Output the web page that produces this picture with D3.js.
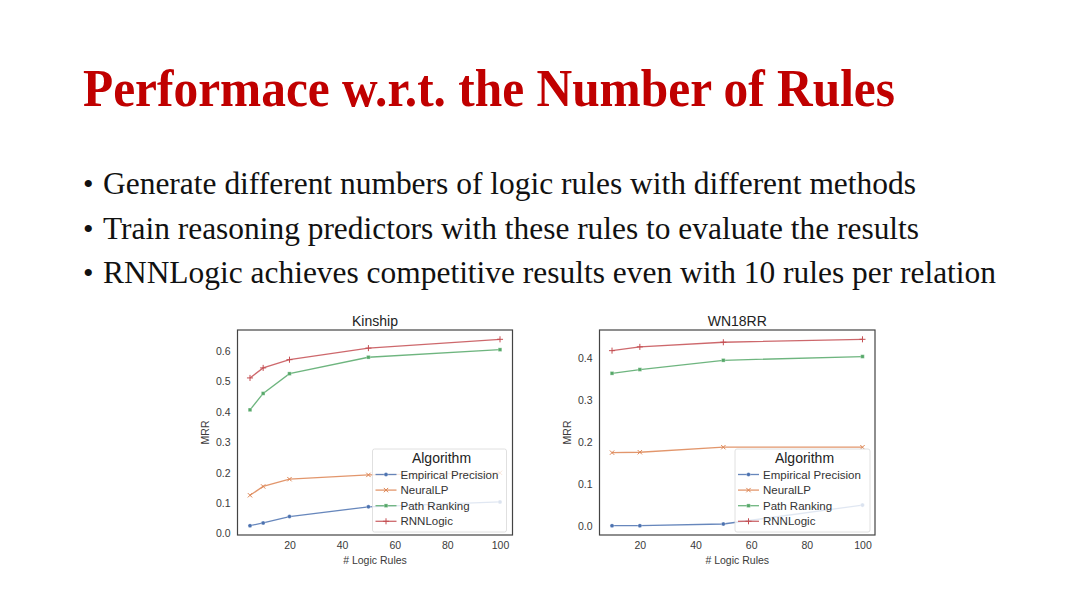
<!DOCTYPE html>
<meta charset="utf-8">
<style>
  body { margin: 0; background: #fff; }
  svg { display: block; }
  .tick text { font-family: "Liberation Sans", Arial, sans-serif; fill: #3a3a3a; }
</style>
<svg width="1080" height="608"></svg>
<script src="https://cdn.jsdelivr.net/npm/d3@7/dist/d3.min.js"></script>
<script>

// slide text
var slideTitle = "Performace w.r.t. the Number of Rules";
var bullets = [
  "Generate different numbers of logic rules with different methods",
  "Train reasoning predictors with these rules to evaluate the results",
  "RNNLogic achieves competitive results even with 10 rules per relation"
];

// series names
var algorithms = ["Empirical Precision", "NeuralLP", "Path Ranking", "RNNLogic"];

// Kinship panel
var kinshipRules = [5, 10, 20, 50, 100];
var kinshipEmpirical = [0.026, 0.035, 0.056, 0.088, 0.104];
var kinshipNeuralLP = [0.126, 0.155, 0.179, 0.193, 0.200];
var kinshipPathRanking = [0.407, 0.461, 0.526, 0.580, 0.605];
var kinshipRNNLogic = [0.512, 0.545, 0.572, 0.610, 0.639];
var kinshipYTicks = [0, 0.1, 0.2, 0.3, 0.4, 0.5, 0.6];

// WN18RR panel
var wnRules = [10, 20, 50, 100];
var wnEmpirical = [0.001, 0.001, 0.005, 0.050];
var wnNeuralLP = [0.175, 0.176, 0.188, 0.188];
var wnPathRanking = [0.364, 0.373, 0.395, 0.404];
var wnRNNLogic = [0.418, 0.427, 0.438, 0.445];
var wnYTicks = [0, 0.1, 0.2, 0.3, 0.4];

var xTicks = [20, 40, 60, 80, 100];

var colors = ["#4c72b0", "#dd8452", "#55a868", "#c44e52"];
var symbols = [d3.symbolCircle, d3.symbolTimes, d3.symbolSquare, d3.symbolPlus];
var filled = [true, false, true, false];

var svg = d3.select("svg");

svg.append("text")
    .attr("x", 83)
    .attr("y", 106)
    .attr("textLength", 812)
    .attr("lengthAdjust", "spacingAndGlyphs")
    .style("font-family", "'Liberation Serif', 'Times New Roman', serif")
    .style("font-weight", "bold")
    .style("font-size", "53px")
    .style("fill", "#c00000")
    .text(slideTitle);

var bulletEnds = [916, 919, 996];
bullets.forEach(function(b, i) {
  var y = 194 + i * 44.5;
  svg.append("text")
      .attr("x", 83).attr("y", y)
      .style("font-family", "'Liberation Serif', 'Times New Roman', serif")
      .style("font-size", "30px")
      .style("fill", "#111")
      .text("\u2022");
  svg.append("text")
      .attr("x", 103).attr("y", y)
      .attr("textLength", bulletEnds[i] - 103)
      .attr("lengthAdjust", "spacingAndGlyphs")
      .style("font-family", "'Liberation Serif', 'Times New Roman', serif")
      .style("font-size", "32px")
      .style("fill", "#111")
      .text(b);
});

function marker(k) {
  return d3.symbol().type(symbols[k]).size(filled[k] ? 13 : 14);
}

function drawPanel(opts) {
  var left = opts.left, top = 330, width = opts.width, height = 205;
  var g = svg.append("g").attr("transform", "translate(" + left + "," + top + ")");

  var xExt = d3.extent(opts.rules), xPad = (xExt[1] - xExt[0]) * 0.05;
  var allY = d3.merge(opts.series);
  var yExt = d3.extent(allY), yPad = (yExt[1] - yExt[0]) * 0.05;

  var x = d3.scaleLinear().domain([xExt[0] - xPad, xExt[1] + xPad]).range([0, width]);
  var y = d3.scaleLinear().domain([yExt[0] - yPad, yExt[1] + yPad]).range([height, 0]);

  g.append("g")
      .attr("transform", "translate(0," + height + ")")
      .call(d3.axisBottom(x).tickValues(xTicks).tickSize(0).tickPadding(7))
      .call(function(a) { a.select(".domain").remove(); a.selectAll("text").style("font-size", "10.5px"); });

  g.append("g")
      .call(d3.axisLeft(y).tickValues(opts.yTicks).tickFormat(d3.format(".1f")).tickSize(0).tickPadding(7))
      .call(function(a) { a.select(".domain").remove(); a.selectAll("text").style("font-size", "10.5px"); });

  g.append("text")
      .attr("x", width / 2).attr("y", height + 29)
      .attr("text-anchor", "middle")
      .style("font-family", "'Liberation Sans', Arial, sans-serif")
      .style("font-size", "10.5px").style("fill", "#3a3a3a")
      .text("# Logic Rules");

  g.append("text")
      .attr("transform", "translate(" + opts.ylabelX + "," + (height / 2) + ") rotate(-90)")
      .attr("text-anchor", "middle")
      .style("font-family", "'Liberation Sans', Arial, sans-serif")
      .style("font-size", "10.5px").style("fill", "#3a3a3a")
      .text("MRR");

  g.append("text")
      .attr("x", width / 2).attr("y", -4)
      .attr("text-anchor", "middle")
      .style("font-family", "'Liberation Sans', Arial, sans-serif")
      .style("font-size", "14px").style("fill", "#222")
      .text(opts.title);

  var line = d3.line()
      .x(function(d) { return x(d[0]); })
      .y(function(d) { return y(d[1]); });

  opts.series.forEach(function(vals, k) {
    var pts = opts.rules.map(function(r, i) { return [r, vals[i]]; });
    g.append("path")
        .datum(pts)
        .attr("d", line)
        .attr("fill", "none")
        .attr("stroke", colors[k])
        .attr("stroke-width", 1.3)
        .attr("stroke-opacity", 0.85);
    g.selectAll(".m" + k)
        .data(pts)
        .enter().append("path")
        .attr("transform", function(d) { return "translate(" + x(d[0]) + "," + y(d[1]) + ")"; })
        .attr("d", marker(k))
        .attr("fill", filled[k] ? colors[k] : "none")
        .attr("stroke", filled[k] ? "#fff" : colors[k])
        .attr("stroke-width", filled[k] ? 0.3 : 1);
  });

  // legend
  var lg = g.append("g").attr("transform", "translate(" + (opts.legendLeft - left) + "," + 119 + ")");
  lg.append("rect")
      .attr("width", opts.legendWidth).attr("height", 83)
      .attr("rx", 2)
      .attr("fill", "#fff").attr("fill-opacity", 0.8)
      .attr("stroke", "#d8d8d8").attr("stroke-width", 0.8);
  lg.append("text")
      .attr("x", opts.legendWidth / 2 + 2).attr("y", 14)
      .attr("text-anchor", "middle")
      .style("font-family", "'Liberation Sans', Arial, sans-serif")
      .style("font-size", "14px").style("fill", "#222")
      .text("Algorithm");
  algorithms.forEach(function(name, k) {
    var ly = 25.5 + k * 15.6;
    lg.append("line")
        .attr("x1", 3).attr("x2", 24).attr("y1", ly).attr("y2", ly)
        .attr("stroke", colors[k]).attr("stroke-width", 1.3).attr("stroke-opacity", 0.85);
    lg.append("path")
        .attr("transform", "translate(13.5," + ly + ")")
        .attr("d", marker(k))
        .attr("fill", filled[k] ? colors[k] : "none")
        .attr("stroke", filled[k] ? "#fff" : colors[k])
        .attr("stroke-width", filled[k] ? 0.3 : 1);
    lg.append("text")
        .attr("x", 28).attr("y", ly + 4)
        .style("font-family", "'Liberation Sans', Arial, sans-serif")
        .style("font-size", "11.5px").style("fill", "#333")
        .text(name);
  });

  // frame
  g.append("rect")
      .attr("width", width).attr("height", height)
      .attr("fill", "none")
      .attr("stroke", "#444").attr("stroke-width", 1.2);
}

drawPanel({
  title: "Kinship", left: 237.5, width: 275, ylabelX: -29,
  rules: kinshipRules,
  series: [kinshipEmpirical, kinshipNeuralLP, kinshipPathRanking, kinshipRNNLogic],
  yTicks: kinshipYTicks,
  legendLeft: 372.5, legendWidth: 134
});

drawPanel({
  title: "WN18RR", left: 599.5, width: 275.5, ylabelX: -29,
  rules: wnRules,
  series: [wnEmpirical, wnNeuralLP, wnPathRanking, wnRNNLogic],
  yTicks: wnYTicks,
  legendLeft: 735, legendWidth: 135
});

</script>
